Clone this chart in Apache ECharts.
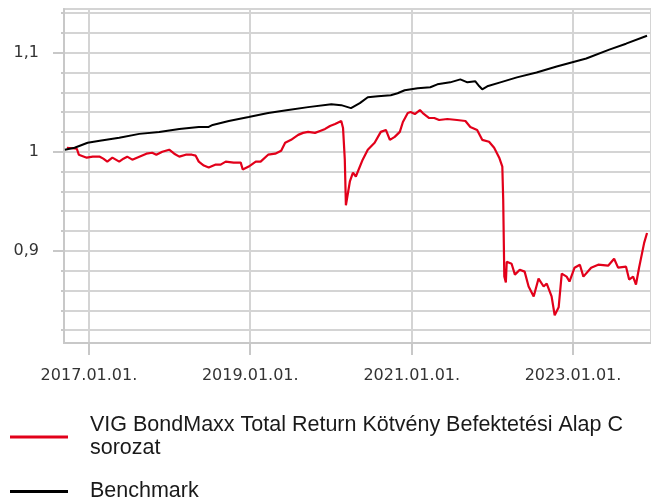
<!DOCTYPE html>
<html>
<head>
<meta charset="utf-8">
<script src="https://cdn.jsdelivr.net/npm/echarts@6/dist/echarts.min.js"></script>
<style>
    html, body { margin: 0; padding: 0; background: #fff; }
    #chart { width: 651px; height: 497px; }
</style>
</head>
<body>
<div id="chart"></div>
<script>
// series names
var fundName = 'VIG BondMaxx Total Return Kötvény Befektetési Alap C sorozat';
var benchName = 'Benchmark';

// fund (red) line
var fundDates = [
    '2016-09-23','2016-11-07','2016-11-16','2016-12-22','2017-01-18','2017-02-19','2017-03-07','2017-03-25',
    '2017-04-17','2017-05-18','2017-06-06','2017-06-23','2017-07-16','2017-08-17','2017-09-18','2017-10-14',
    '2017-11-02','2017-11-29','2017-12-30','2018-01-22','2018-02-14','2018-03-15','2018-04-12','2018-04-29',
    '2018-05-13','2018-06-05','2018-06-27','2018-07-29','2018-08-20','2018-09-12','2018-10-18','2018-11-19',
    '2018-11-28','2018-12-25','2019-01-26','2019-02-17','2019-03-23','2019-04-24','2019-05-21','2019-06-08',
    '2019-07-05','2019-08-06','2019-08-28','2019-09-20','2019-10-21','2019-11-13','2019-12-06','2019-12-28',
    '2020-01-20','2020-02-17','2020-02-25','2020-03-04','2020-03-09','2020-03-18','2020-03-27','2020-04-10',
    '2020-04-23','2020-05-02','2020-05-24','2020-06-16','2020-07-17','2020-08-14','2020-09-06','2020-09-24',
    '2020-10-16','2020-11-08','2020-11-22','2020-12-14','2020-12-27','2021-01-15','2021-02-07','2021-02-20',
    '2021-03-21','2021-04-13','2021-05-05','2021-06-11','2021-07-25','2021-09-01','2021-09-23','2021-10-24',
    '2021-11-16','2021-12-17','2022-01-09','2022-02-01','2022-02-15','2022-02-19','2022-02-24','2022-03-03',
    '2022-03-07','2022-03-29','2022-04-13','2022-05-05','2022-05-27','2022-06-14','2022-07-07','2022-07-29',
    '2022-08-21','2022-09-04','2022-09-26','2022-10-10','2022-10-28','2022-11-11','2022-12-03','2022-12-16',
    '2023-01-08','2023-02-01','2023-02-17','2023-03-24','2023-04-25','2023-06-09','2023-07-06','2023-07-24',
    '2023-08-29','2023-09-12','2023-09-30','2023-10-13','2023-10-27','2023-11-19','2023-12-02'
];
var fundValues = [
    1.004, 1.003, 0.997, 0.994, 0.995, 0.995, 0.993, 0.990,
    0.994, 0.990, 0.993, 0.995, 0.992, 0.995, 0.998, 0.999,
    0.997, 1.000, 1.002, 0.998, 0.995, 0.997, 0.997, 0.996,
    0.990, 0.986, 0.984, 0.987, 0.987, 0.990, 0.989, 0.989,
    0.982, 0.985, 0.990, 0.990, 0.997, 0.998, 1.001, 1.009,
    1.012, 1.017, 1.019, 1.020, 1.019, 1.021, 1.023, 1.026,
    1.028, 1.031, 1.024, 0.992, 0.946, 0.944, 0.970, 0.979,
    0.975, 0.975, 0.992, 1.002, 1.009, 1.020, 1.022, 1.012,
    1.015, 1.020, 1.030, 1.039, 1.040, 1.038, 1.042, 1.039,
    1.034, 1.034, 1.032, 1.033, 1.032, 1.031, 1.025, 1.022,
    1.012, 1.010, 1.004, 0.994, 0.985, 0.952, 0.874, 0.868,
    0.889, 0.887, 0.876, 0.881, 0.879, 0.864, 0.854, 0.872,
    0.864, 0.867, 0.854, 0.835, 0.843, 0.877, 0.874, 0.869,
    0.883, 0.886, 0.874, 0.883, 0.886, 0.885, 0.892, 0.883,
    0.884, 0.871, 0.874, 0.866, 0.883, 0.908, 0.918
];

// benchmark (black) line
var benchDates = [
    '2016-09-14','2016-10-28','2016-12-26','2017-02-19','2017-05-18','2017-08-17','2017-11-15','2018-02-14',
    '2018-05-13','2018-06-27','2018-07-15','2018-09-26','2018-12-25','2019-03-23','2019-06-22','2019-09-20',
    '2020-01-03','2020-02-17','2020-04-01','2020-05-11','2020-06-16','2020-08-01','2020-09-28','2020-10-29',
    '2020-11-30','2021-01-28','2021-03-26','2021-04-27','2021-06-24','2021-08-09','2021-09-10','2021-10-16',
    '2021-11-03','2021-11-16','2021-12-09','2022-02-06','2022-04-22','2022-07-20','2022-10-19','2022-12-25',
    '2023-03-02','2023-06-14','2023-08-29','2023-12-02'
];
var benchValues = [
    1.002, 1.004, 1.009, 1.011, 1.014, 1.018, 1.020, 1.023,
    1.025, 1.025, 1.027, 1.031, 1.035, 1.039, 1.042, 1.045,
    1.048, 1.047, 1.044, 1.049, 1.055, 1.056, 1.057, 1.059,
    1.062, 1.064, 1.065, 1.068, 1.070, 1.073, 1.070, 1.071,
    1.066, 1.063, 1.066, 1.070, 1.075, 1.080, 1.086, 1.090,
    1.094, 1.103, 1.109, 1.117
];

// axis ticks
var xTickDates = ['2017-01-01', '2019-01-01', '2021-01-01', '2023-01-01'];
var xRange = ['2016-09-10', '2023-12-20'];
var yMajorTicks = [0.9, 1, 1.1];
var yMinorTicks = [0.82, 0.84, 0.86, 0.88, 0.9, 0.92, 0.94, 0.96, 0.98, 1, 1.02, 1.04, 1.06, 1.08, 1.1, 1.12, 1.14];

function toTime(d) { return echarts.number.parseDate(d).getTime(); }
function pairs(dates, values) {
    var out = [];
    for (var i = 0; i < dates.length; i++) {
        out.push([toTime(dates[i]), values[i]]);
    }
    return out;
}
function pad(n) { return n < 10 ? '0' + n : '' + n; }

var xTicks = xTickDates.map(toTime);
var gridColor = '#d4d4d4';
var axisColor = '#c8c8c8';

// legend look, shared by both legend boxes
function legendBox(name, top) {
    return {
        orient: 'vertical',
        left: 5,
        top: top,
        itemWidth: 58,
        itemHeight: 3,
        icon: 'rect',
        selectedMode: false,
        formatter: function (n) {
            // long name: last word goes to a second line
            if (n.length < 40) return n;
            var i = n.lastIndexOf(' ');
            return n.slice(0, i) + '\n' + n.slice(i + 1);
        },
        textStyle: {
            fontFamily: 'Liberation Sans',
            fontSize: 21.5,
            lineHeight: 23,
            color: '#1a1a1a',
            padding: [0, 0, 0, 17]
        },
        data: [name]
    };
}

var chart = echarts.init(document.getElementById('chart'), null, { renderer: 'canvas' });
var option = {
    animation: false,
    backgroundColor: '#fff',
    grid: {
        left: 64, top: 9, right: -4, bottom: 154,
        show: true, borderColor: gridColor, borderWidth: 2
    },
    legend: [legendBox(fundName, 409), legendBox(benchName, 475)],
    xAxis: {
        type: 'value',
        min: toTime(xRange[0]),
        max: toTime(xRange[1]),
        axisLine: { lineStyle: { color: axisColor, width: 2 } },
        axisTick: { show: true, customValues: xTicks, length: 12, lineStyle: { color: axisColor, width: 2 } },
        splitLine: { show: true, lineStyle: { color: gridColor, width: 2 } },
        axisLabel: {
            customValues: xTicks,
            margin: 25,
            fontFamily: 'DejaVu Sans',
            fontSize: 16,
            color: '#333',
            formatter: function (v) {
                var d = new Date(v);
                return d.getFullYear() + '.' + pad(d.getMonth() + 1) + '.' + pad(d.getDate()) + '.';
            }
        }
    },
    yAxis: [{
        type: 'value',
        min: 0.807,
        max: 1.144,
        axisLine: { show: true, lineStyle: { color: axisColor, width: 2 } },
        axisTick: { show: true, customValues: yMinorTicks, length: 3, lineStyle: { color: axisColor, width: 2 } },
        splitLine: { show: true, lineStyle: { color: gridColor, width: 2 } },
        axisLabel: { show: false }
    }, {
        type: 'value',
        position: 'left',
        min: 0.807,
        max: 1.144,
        axisLine: { show: false },
        axisTick: { show: true, customValues: yMajorTicks, length: 11, lineStyle: { color: axisColor, width: 2 } },
        splitLine: { show: false },
        axisLabel: {
            customValues: yMajorTicks,
            margin: 25,
            fontFamily: 'DejaVu Sans',
            fontSize: 16,
            color: '#333',
            formatter: function (v) { return String(v).replace('.', ','); }
        }
    }],
    series: [{
        name: fundName,
        type: 'line',
        yAxisIndex: 0,
        showSymbol: false,
        symbol: 'none',
        color: '#e2001a',
        lineStyle: { color: '#e2001a', width: 2.2 },
        data: pairs(fundDates, fundValues)
    }, {
        name: benchName,
        type: 'line',
        yAxisIndex: 0,
        showSymbol: false,
        symbol: 'none',
        color: '#000',
        lineStyle: { color: '#000', width: 2 },
        data: pairs(benchDates, benchValues)
    }]
};
chart.setOption(option);
</script>
</body>
</html>
